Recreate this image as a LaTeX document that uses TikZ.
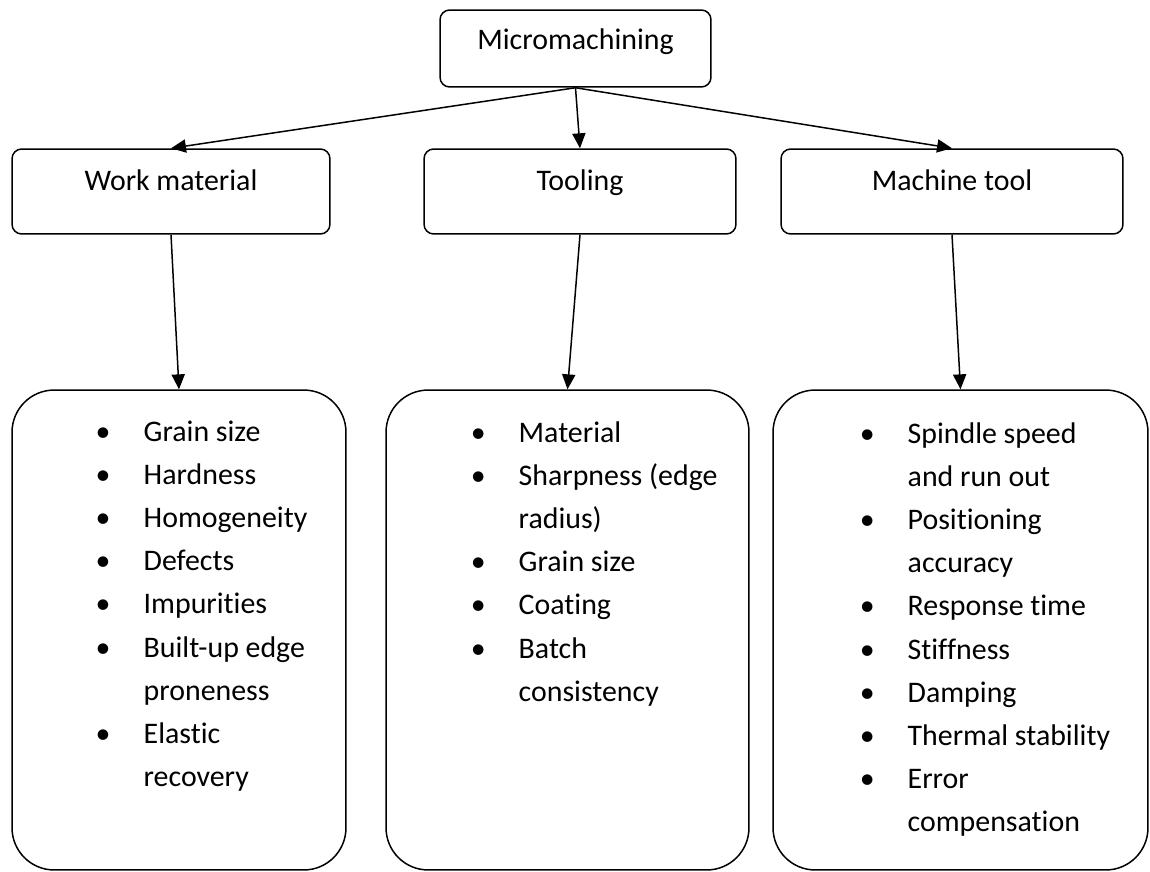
\documentclass[tikz,border=0pt]{standalone}
\usepackage{fontspec}
\setmainfont{Carlito}[Ligatures=NoCommon]
\usetikzlibrary{arrows.meta}
\begin{document}
\begin{tikzpicture}[x=0.02cm,y=-0.02cm,line width=0.85pt,
  font=\fontsize{17}{24.6}\selectfont,
  box/.style={draw,rounded corners=5.5pt,inner sep=0pt,text height=12pt,text depth=13pt,minimum height=1.7cm},
  listbox/.style={draw,rounded corners=24pt,inner sep=0pt,minimum height=9.6cm},
  list/.style={inner sep=0pt,anchor=base west},
  arr/.style={-{Triangle[length=8.5pt,width=7.5pt]}}]
\useasboundingbox (0,0) rectangle (1150,872);

\node[box,minimum width=5.42cm,minimum height=1.54cm,text depth=11pt] (top) at (575.5,48.5) {Micromachining};
\node[box,minimum width=6.36cm] (wm) at (171,191.5) {Work material};
\node[box,minimum width=6.24cm] (tl) at (580,191.5) {Tooling};
\node[box,minimum width=6.84cm] (mt) at (952,191.5) {Machine tool};

\node[listbox,minimum width=6.68cm] (wmbox) at (179,630) {};
\node[listbox,minimum width=7.26cm] (tlbox) at (567.5,630) {};
\node[listbox,minimum width=7.50cm] (mtbox) at (960.5,630) {};

\draw[arr] (top.south) -- (wm.north);
\draw[arr] (top.south) -- (tl.north);
\draw[arr] (top.south) -- (mt.north);
\draw[arr] (wm.south) -- (wmbox.north);
\draw[arr] (tl.south) -- (tlbox.north);
\draw[arr] (mt.south) -- (mtbox.north);

\node[list] (wmlist) at (95,441) {\begin{tabular}[t]{@{}p{27.3pt}@{}l@{}}
\textbullet & Grain size\\
\textbullet & Hardness\\
\textbullet & Homogeneity\\
\textbullet & Defects\\
\textbullet & Impurities\\
\textbullet & Built-up edge\\
 & proneness\\
\textbullet & Elastic\\
 & recovery
\end{tabular}};
\node[list] (tllist) at (470,442) {\begin{tabular}[t]{@{}p{27.3pt}@{}l@{}}
\textbullet & Material\\
\textbullet & Sharpness (edge\\
 & radius)\\
\textbullet & Grain size\\
\textbullet & Coating\\
\textbullet & Batch\\
 & consistency
\end{tabular}};
\node[list] (mtlist) at (859,443) {\begin{tabular}[t]{@{}p{27.3pt}@{}l@{}}
\textbullet & Spindle speed\\
 & and run out\\
\textbullet & Positioning\\
 & accuracy\\
\textbullet & Response time\\
\textbullet & Stiffness\\
\textbullet & Damping\\
\textbullet & Thermal stability\\
\textbullet & Error\\
 & compensation
\end{tabular}};
\end{tikzpicture}
\end{document}
